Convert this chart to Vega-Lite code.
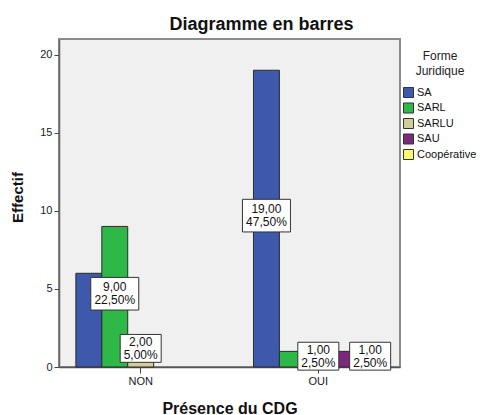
{
  "$schema": "https://vega.github.io/schema/vega-lite/v6.json",
  "width": 341,
  "height": 328,
  "autosize": {"type": "none"},
  "padding": {"left": 59, "top": 39, "right": 85, "bottom": 48},
  "background": "white",
  "title": {
    "text": "Diagramme en barres",
    "fontSize": 18,
    "fontWeight": "bold",
    "color": "#111111",
    "anchor": "middle",
    "baseline": "alphabetic",
    "offset": 8,
    "dx": 32,
    "dy": 17
  },
  "data": {
    "values": [
      {"cdg": "NON", "forme": "SA", "n": 6},
      {"cdg": "NON", "forme": "SARL", "n": 9},
      {"cdg": "NON", "forme": "SARLU", "n": 2},
      {"cdg": "OUI", "forme": "SA", "n": 19},
      {"cdg": "OUI", "forme": "SARL", "n": 1},
      {"cdg": "OUI", "forme": "SARLU", "n": 1},
      {"cdg": "OUI", "forme": "SAU", "n": 1},
      {"cdg": "OUI", "forme": "Coopérative", "n": 1}
    ]
  },
  "transform": [
    {"joinaggregate": [{"op": "sum", "field": "n", "as": "total"}]},
    {"calculate": "datum.n / 2", "as": "mid"},
    {"calculate": "replace(format(datum.n, '.2f'), '.', ',')", "as": "l1"},
    {"calculate": "replace(format(100 * datum.n / datum.total, '.2f'), '.', ',') + '%'", "as": "l2"},
    {"calculate": "pow(7 * length(datum.l2) + 6, 2)", "as": "bw"}
  ],
  "encoding": {
    "x": {
      "field": "cdg",
      "type": "nominal",
      "scale": {"paddingInner": 0.27, "paddingOuter": 0.095},
      "axis": {
        "title": "Présence du CDG",
        "titleFontSize": 16,
        "titleFontWeight": "bold",
        "titleColor": "#111111",
        "titleY": 46,
        "titleBaseline": "alphabetic",
        "labelAngle": 0,
        "labelFontSize": 11,
        "labelColor": "#222222",
        "labelPadding": 2,
        "tickSize": 6,
        "tickColor": "#444444",
        "domainColor": "#555555",
        "domainWidth": 1.5
      }
    },
    "xOffset": {
      "field": "forme",
      "type": "nominal",
      "scale": {
        "domain": ["SA", "SARL", "SARLU", "SAU", "Coopérative"],
        "paddingInner": 0,
        "paddingOuter": 0
      }
    }
  },
  "layer": [
    {
      "mark": {"type": "bar", "stroke": "#2b2b2b", "strokeWidth": 1},
      "encoding": {
        "y": {
          "field": "n",
          "type": "quantitative",
          "scale": {"domain": [0, 21], "nice": false},
          "axis": {
            "values": [0, 5, 10, 15, 20],
            "title": "Effectif",
            "titleFontSize": 15,
            "titleFontWeight": "bold",
            "titleColor": "#111111",
            "titleX": -42,
            "titleY": 158,
            "titleAngle": -90,
            "titleAlign": "center",
            "titleBaseline": "middle",
            "labelFontSize": 11,
            "labelColor": "#222222",
            "labelPadding": 2,
            "tickSize": 5,
            "tickColor": "#444444",
            "domainColor": "#666666",
            "domainWidth": 1.5,
            "grid": false
          }
        },
        "color": {
          "field": "forme",
          "type": "nominal",
          "scale": {
            "domain": ["SA", "SARL", "SARLU", "SAU", "Coopérative"],
            "range": ["#3E58AC", "#2EB848", "#D3CE97", "#7C287D", "#FBF873"]
          },
          "legend": {
            "orient": "none",
            "legendX": 344,
            "legendY": 12,
            "title": ["Forme", "Juridique"],
            "titleFontSize": 12,
            "titleFontWeight": "normal",
            "titleColor": "#222222",
            "titleAlign": "center",
            "titleAnchor": "middle",
            "titleLineHeight": 15,
            "titlePadding": 9,
            "labelFontSize": 11,
            "labelColor": "#111111",
            "labelOffset": 3,
            "symbolType": "square",
            "symbolSize": 100,
            "symbolStrokeColor": "#333333",
            "symbolStrokeWidth": 1,
            "symbolOpacity": 1,
            "rowPadding": 0.5
          }
        }
      }
    },
    {
      "transform": [
        {"filter": "!(datum.cdg == 'NON' && datum.forme == 'SA') && !(datum.cdg == 'OUI' && (datum.forme == 'SAU' || datum.forme == 'SARL'))"}
      ],
      "layer": [
        {
          "mark": {
            "type": "point",
            "shape": "M-1,-0.68L1,-0.68L1,0.68L-1,0.68Z",
            "filled": true,
            "fill": "white",
            "stroke": "#333333",
            "strokeWidth": 1,
            "opacity": 1,
            "yOffset": -3
          },
          "encoding": {
            "y": {"field": "mid", "type": "quantitative"},
            "size": {"field": "bw", "type": "quantitative", "scale": null, "legend": null}
          }
        },
        {
          "mark": {"type": "text", "fontSize": 12, "color": "#111111", "baseline": "middle", "dy": -6.5, "yOffset": -3},
          "encoding": {
            "y": {"field": "mid", "type": "quantitative"},
            "text": {"field": "l1", "type": "nominal"}
          }
        },
        {
          "mark": {"type": "text", "fontSize": 12, "color": "#111111", "baseline": "middle", "dy": 6.5, "yOffset": -3},
          "encoding": {
            "y": {"field": "mid", "type": "quantitative"},
            "text": {"field": "l2", "type": "nominal"}
          }
        }
      ]
    }
  ],
  "config": {
    "font": "Liberation Sans",
    "view": {"fill": "#f0f0f0", "stroke": "#8c8c8c", "strokeWidth": 2}
  }
}
